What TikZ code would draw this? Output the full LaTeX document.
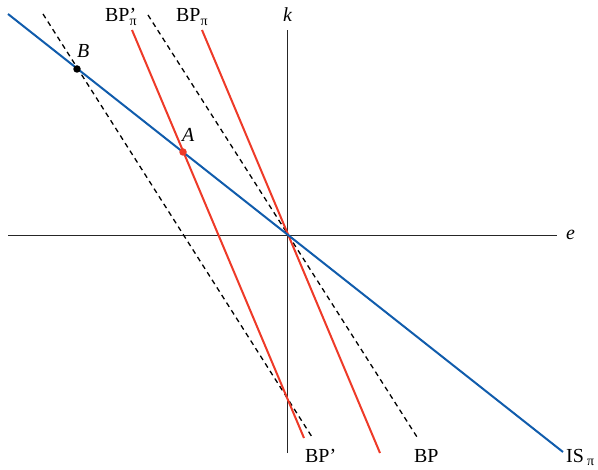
\documentclass[tikz,border=0pt]{standalone}
\usepackage{fontspec}
\setmainfont{Liberation Serif}
\usetikzlibrary{positioning}
\definecolor{isblue}{RGB}{16,92,172}
\definecolor{bpred}{RGB}{238,58,40}
\tikzset{
  axis/.style={black!85,line width=0.8bp},
  isline/.style={isblue,line width=2bp},
  bpline/.style={bpred,line width=2bp},
  oldbp/.style={black,line width=1.3bp,dash pattern=on 5bp off 4bp},
  lbl/.style={inner sep=0pt,anchor=base west,font=\fontsize{20}{23}\selectfont},
  pdot/.style={circle,inner sep=0pt,minimum size=7.5bp}
}

\begin{document}
\begin{tikzpicture}[x=1bp,y=-1bp]
\useasboundingbox (0,0) rectangle (598,470);
% axes
\coordinate (ktop) at (287,30);
\coordinate (kbot) at (287,453);
\coordinate (eleft) at (8,235);
\coordinate (eright) at (557,235);
\draw[axis] (kbot) -- (ktop);
\draw[axis] (eleft) -- (eright);
\node[lbl] (klab) at (283,22) {\textit{k}};
\node[lbl] (elab) at (566,240) {\textit{e}};
% old BP schedules (dashed)
\coordinate (bpa) at (148,15);
\coordinate (bpb) at (417,437);
\coordinate (bpqa) at (43,14);
\coordinate (bpqb) at (312,437);
\draw[oldbp] (bpa) -- (bpb);
\draw[oldbp] (bpqa) -- (bpqb);
% BP_pi schedules
\coordinate (bppa) at (202,30);
\coordinate (bppb) at (380,453);
\coordinate (bppqa) at (132,30);
\coordinate (bppqb) at (304,438);
\draw[bpline] (bppa) -- (bppb);
\draw[bpline] (bppqa) -- (bppqb);
% IS_pi
\coordinate (isa) at (8,14);
\coordinate (isb) at (563,452);
\draw[isline] (isa) -- (isb);
% equilibria
\node[pdot,fill=black] (B) at (77,69) {};
\node[pdot,fill=bpred] (A) at (183,152) {};
\node[lbl] (Blab) at (77,58) {\textit{B}};
\node[lbl] (Alab) at (182,142) {\textit{A}};
% labels
\node[lbl] (bppqlab) at (105,22) {BP\rlap{’}\textsubscript{π}};
\node[lbl] (bpplab) at (176,22) {BP\textsubscript{π}};
\node[lbl] (bpqlab) at (305,462) {BP’};
\node[lbl] (bplab) at (414,462) {BP};
\node[lbl] (islab) at (566,462) {IS\,\textsubscript{π}};
\end{tikzpicture}
\end{document}
